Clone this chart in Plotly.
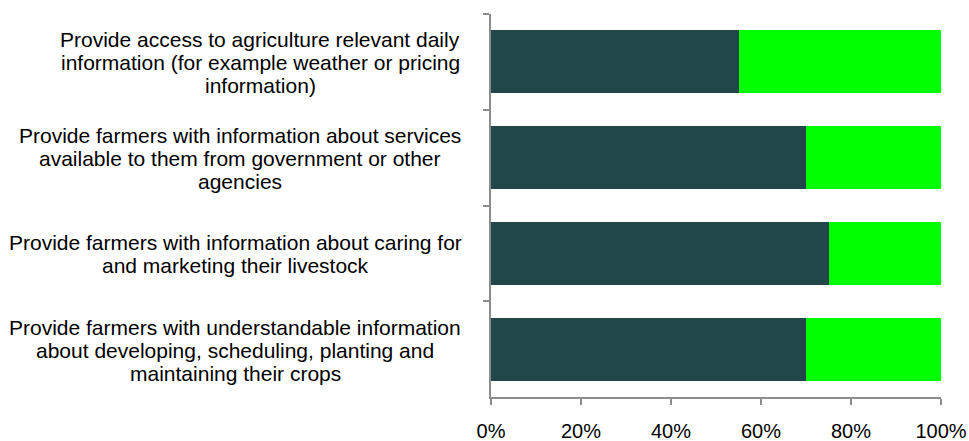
import plotly.graph_objects as go

# ---- data ----
category_lines = [
    ["Provide access to agriculture relevant daily",
     "information (for example weather or pricing",
     "information)"],
    ["Provide farmers with information about services",
     "available to them from government or other",
     "agencies"],
    ["Provide farmers with information about caring for",
     "and marketing their livestock"],
    ["Provide farmers with understandable information",
     "about developing, scheduling, planting and",
     "maintaining their crops"],
]
categories = [" ".join(l) for l in category_lines]
dark_values = [55, 70, 75, 70]
green_values = [45, 30, 25, 30]
x_tick_values = [0, 20, 40, 60, 80, 100]
x_tick_labels = ["0%", "20%", "40%", "60%", "80%", "100%"]

# ---- style ----
W, H = 969, 441
ML, MR, MT, MB = 491, 28, 14, 44
PLOT_W = W - ML - MR
FONT = "Liberation Sans, Arial, sans-serif"
LABEL_SIZE = 21
TICK_SIZE = 20
LINE_STEP = 23
label_centers_px = [260, 240, 235, 235]
AXIS_COLOR = "#8c8c8c"

fig = go.Figure()
fig.add_trace(go.Bar(y=categories, x=dark_values, orientation="h",
                     marker=dict(color="#22474a", line=dict(width=0)),
                     name="Series 1", showlegend=False))
fig.add_trace(go.Bar(y=categories, x=green_values, orientation="h",
                     marker=dict(color="#00ff00", line=dict(width=0)),
                     name="Series 2", showlegend=False))

annotations = []
for cat, lines, cpx in zip(categories, category_lines, label_centers_px):
    n = len(lines)
    for j, line in enumerate(lines):
        annotations.append(dict(
            text=line, x=(cpx - ML) / PLOT_W, xref="paper", y=cat, yref="y",
            xanchor="center", yanchor="middle", showarrow=False,
            yshift=-(j - (n - 1) / 2) * LINE_STEP - 1,
            font=dict(family=FONT, size=LABEL_SIZE, color="#000000")))

fig.update_layout(
    width=W, height=H,
    margin=dict(l=ML, r=MR, t=MT, b=MB, pad=0, autoexpand=False),
    paper_bgcolor="white", plot_bgcolor="white",
    barmode="stack", bargap=0.34,
    annotations=annotations,
    xaxis=dict(range=[0, 100], tickvals=x_tick_values, ticktext=x_tick_labels,
               automargin=False,
               showgrid=False, zeroline=False, showline=True,
               linecolor=AXIS_COLOR, linewidth=1.5,
               ticks="outside", ticklen=6, tickwidth=1.5, tickcolor=AXIS_COLOR,
               tickfont=dict(family=FONT, size=TICK_SIZE, color="#000000"),
               ticklabelstandoff=9),
    yaxis=dict(type="category", autorange="reversed", automargin=False,
               categoryorder="array", categoryarray=categories,
               showgrid=False, zeroline=False, showline=True,
               linecolor=AXIS_COLOR, linewidth=1.5,
               ticks="outside", ticklen=6, tickwidth=1.5, tickcolor=AXIS_COLOR,
               tickson="boundaries", showticklabels=False),
)

fig.write_html("out.html",
               config={"displayModeBar": False},
               post_script="document.body.style.margin='0';document.body.style.overflow='hidden';")
